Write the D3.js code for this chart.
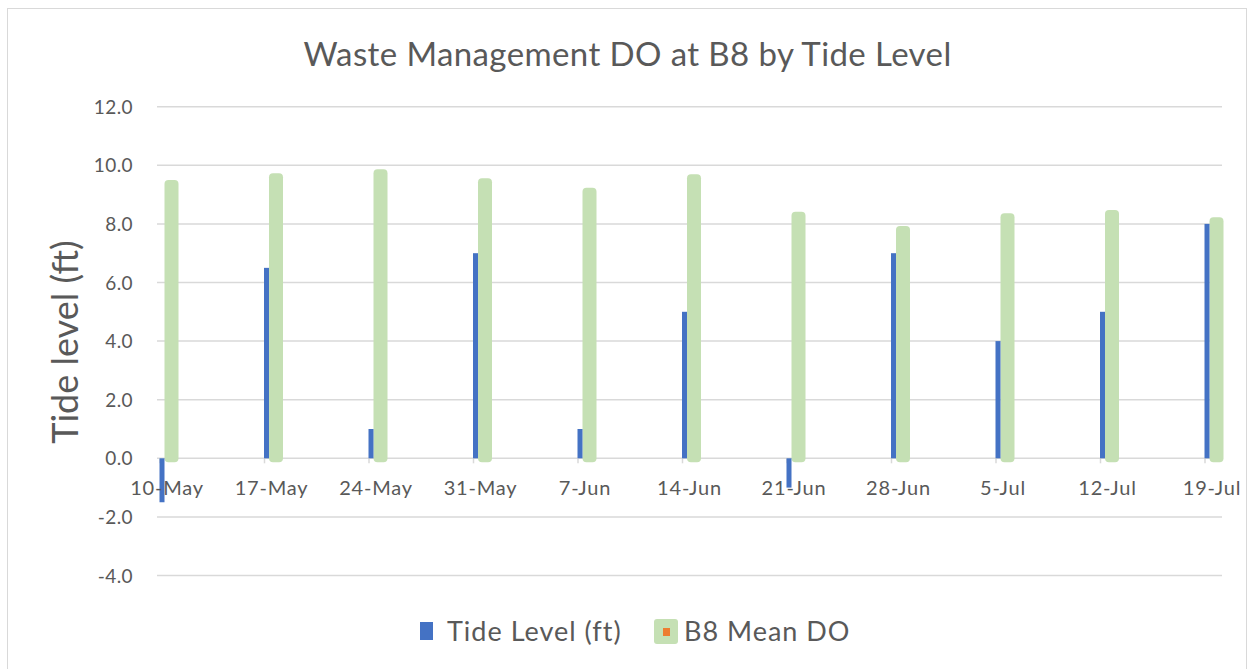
<!DOCTYPE html>
<html>
<head>
<meta charset="utf-8">
<script src="https://cdn.jsdelivr.net/npm/d3@7"></script>
<style>
  body { margin: 0; background: #fff; }
  text { font-family: Lato, "Open Sans", sans-serif; fill: #595959; }
</style>
</head>
<body>
<div id="chart"></div>
<script>
var dates = ["10-May", "17-May", "24-May", "31-May", "7-Jun", "14-Jun", "21-Jun", "28-Jun", "5-Jul", "12-Jul", "19-Jul"];
var tideLevel = [-1.5, 6.5, 1.0, 7.0, 1.0, 5.0, -1.0, 7.0, 4.0, 5.0, 8.0];
var meanDO = [9.36, 9.59, 9.73, 9.42, 9.1, 9.56, 8.28, 7.79, 8.23, 8.34, 8.09];
var yTicks = [-4, -2, 0, 2, 4, 6, 8, 10, 12];
var seriesNames = ["Tide Level (ft)", "B8 Mean DO"];

var svgWidth = 1248;
var svgHeight = 669;

var plot = { left: 157, right: 1222, x0: 160, x1: 1205, top: 106.7, bottom: 575.5 };

var blue = "#4472C4";
var green = "#C5E0B4";
var grid = "#d9d9d9";

var parseDate = d3.timeParse("%d-%b-%Y");
var days = dates.map(d => parseDate(d + "-2019"));

var svg = d3.select("#chart")
  .append("svg")
  .attr("width", svgWidth)
  .attr("height", svgHeight);

// outer frame
svg.append("rect")
  .attr("x", 7.5).attr("y", 8.5)
  .attr("width", 1239).attr("height", 700)
  .attr("fill", "none")
  .attr("stroke", grid);

var xScale = d3.scaleTime()
  .domain([days[0], days[days.length - 1]])
  .range([plot.x0, plot.x1]);

var yScale = d3.scaleLinear()
  .domain([-4, 12])
  .range([plot.bottom, plot.top]);

// gridlines
svg.append("g")
  .selectAll("line")
  .data(yTicks)
  .enter()
  .append("line")
  .attr("x1", plot.left)
  .attr("x2", plot.right)
  .attr("y1", d => yScale(d))
  .attr("y2", d => yScale(d))
  .attr("stroke", grid)
  .attr("stroke-width", 1.5);

// y tick labels (plain hyphen for negatives, like the original)
svg.append("g")
  .selectAll("text")
  .data(yTicks)
  .enter()
  .append("text")
  .attr("x", 133)
  .attr("y", d => yScale(d) + 7)
  .attr("text-anchor", "end")
  .style("font-size", "19px")
  .style("letter-spacing", "0.4px")
  .text(d => d.toFixed(1));

// x tick marks at zero line
svg.append("g")
  .selectAll("line")
  .data(days)
  .enter()
  .append("line")
  .attr("x1", d => xScale(d))
  .attr("x2", d => xScale(d))
  .attr("y1", yScale(0))
  .attr("y2", yScale(0) + 5)
  .attr("stroke", grid)
  .attr("stroke-width", 1.5);

// green DO bars (rounded by a thick stroke)
svg.append("g")
  .selectAll("rect")
  .data(meanDO)
  .enter()
  .append("rect")
  .attr("x", (d, i) => xScale(days[i]) + 8.5)
  .attr("y", d => yScale(d))
  .attr("width", 6)
  .attr("height", d => yScale(0) - yScale(d))
  .attr("fill", green)
  .attr("stroke", green)
  .attr("stroke-width", 8)
  .attr("stroke-linejoin", "round");

// blue tide bars
svg.append("g")
  .selectAll("rect")
  .data(tideLevel)
  .enter()
  .append("rect")
  .attr("x", (d, i) => xScale(days[i]) - 0.5)
  .attr("y", d => yScale(Math.max(0, d)))
  .attr("width", 5)
  .attr("height", d => Math.abs(yScale(d) - yScale(0)))
  .attr("fill", blue);

// x tick labels
svg.append("g")
  .selectAll("text")
  .data(dates)
  .enter()
  .append("text")
  .attr("x", (d, i) => xScale(days[i]) + 7)
  .attr("y", yScale(0) + 37)
  .attr("text-anchor", "middle")
  .style("font-size", "20px")
  .style("letter-spacing", "0.8px")
  .text(d => d);

// title
svg.append("text")
  .attr("x", 627.5)
  .attr("y", 66)
  .attr("text-anchor", "middle")
  .style("font-size", "33px")
  .style("letter-spacing", "0.4px")
  .text("Waste Management DO at B8 by Tide Level");

// y axis title
svg.append("text")
  .attr("transform", "translate(78, 342) rotate(-90)")
  .attr("text-anchor", "middle")
  .style("font-size", "36px")
  .text("Tide level (ft)");

// legend
var legend = svg.append("g");

legend.append("rect")
  .attr("x", 420).attr("y", 622)
  .attr("width", 13).attr("height", 18)
  .attr("fill", blue);

legend.append("text")
  .attr("x", 447).attr("y", 641)
  .style("font-size", "27px")
  .style("letter-spacing", "1px")
  .text(seriesNames[0]);

legend.append("rect")
  .attr("x", 654).attr("y", 619)
  .attr("width", 24).attr("height", 25)
  .attr("rx", 3)
  .attr("fill", green);

legend.append("rect")
  .attr("x", 663).attr("y", 628)
  .attr("width", 7).attr("height", 8)
  .attr("fill", "#ED7D31");

legend.append("text")
  .attr("x", 684).attr("y", 641)
  .style("font-size", "27px")
  .style("letter-spacing", "1px")
  .text(seriesNames[1]);
</script>
</body>
</html>
